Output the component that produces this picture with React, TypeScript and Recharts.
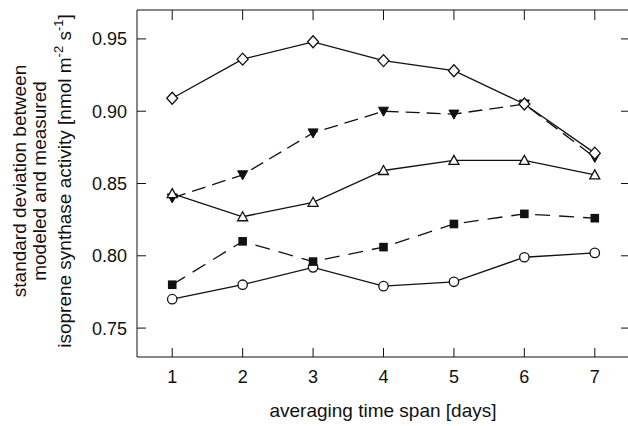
import React from "react";
import { LineChart, Line, XAxis, YAxis } from "recharts";

const days = [1, 2, 3, 4, 5, 6, 7];
const diamonds = [0.909, 0.936, 0.948, 0.935, 0.928, 0.905, 0.871];
const downTriangles = [0.84, 0.856, 0.885, 0.9, 0.898, 0.905, 0.868];
const upTriangles = [0.843, 0.827, 0.837, 0.859, 0.866, 0.866, 0.856];
const squares = [0.78, 0.81, 0.796, 0.806, 0.822, 0.829, 0.826];
const circles = [0.77, 0.78, 0.792, 0.779, 0.782, 0.799, 0.802];

const xTicks = [1, 2, 3, 4, 5, 6, 7];
const yTicks = [0.75, 0.8, 0.85, 0.9, 0.95];

const data = days.map((d, i) => ({
  day: d,
  diamond: diamonds[i],
  down: downTriangles[i],
  up: upTriangles[i],
  square: squares[i],
  circle: circles[i],
}));

const INK = "#111";
const FONT = "'Liberation Sans', Arial, sans-serif";
const SW = 1.3;

const Diamond = ({ cx, cy }: any) => (
  <path
    d={`M${cx},${cy - 6}L${cx + 5.5},${cy}L${cx},${cy + 6}L${cx - 5.5},${cy}Z`}
    fill="#fff"
    stroke={INK}
    strokeWidth={SW}
  />
);
const DownTri = ({ cx, cy }: any) => (
  <path d={`M${cx - 5},${cy - 4}L${cx + 5},${cy - 4}L${cx},${cy + 5}Z`} fill={INK} stroke={INK} strokeWidth={1} />
);
const UpTri = ({ cx, cy }: any) => (
  <path d={`M${cx - 5},${cy + 4}L${cx + 5},${cy + 4}L${cx},${cy - 5}Z`} fill="#fff" stroke={INK} strokeWidth={SW} />
);
const Square = ({ cx, cy }: any) => (
  <rect x={cx - 4.3} y={cy - 4.3} width={8.6} height={8.6} fill={INK} />
);
const Circle = ({ cx, cy }: any) => <circle cx={cx} cy={cy} r={4.7} fill="#fff" stroke={INK} strokeWidth={SW} />;

const BottomTick = ({ x, y, payload }: any) => (
  <g>
    <line x1={x} y1={y} x2={x} y2={y - 9} stroke={INK} strokeWidth={1} />
    <text x={x} y={y + 26} textAnchor="middle" fill={INK} fontSize={18} fontFamily={FONT}>
      {payload.value}
    </text>
  </g>
);
const TopTick = ({ x, y }: any) => <line x1={x} y1={y} x2={x} y2={y + 10} stroke={INK} strokeWidth={1} />;
const LeftTick = ({ x, y, payload }: any) => (
  <g>
    <line x1={x} y1={y} x2={x + 9} y2={y} stroke={INK} strokeWidth={1} />
    <text x={x - 10} y={y + 6.5} textAnchor="end" fill={INK} fontSize={18} fontFamily={FONT}>
      {Number(payload.value).toFixed(2)}
    </text>
  </g>
);
const RightTick = ({ x, y }: any) => <line x1={x} y1={y} x2={x - 9} y2={y} stroke={INK} strokeWidth={1} />;

export default function App() {
  const cy = 181;
  return (
    <div style={{ position: "absolute", left: 0, top: 0, width: 628, height: 426, overflow: "hidden", background: "#fff" }}>
      <LineChart width={634} height={426} data={data} margin={{ top: 9, right: 3, bottom: 68, left: 136 }}>
        <XAxis
          dataKey="day"
          type="number"
          domain={[0.5, 7.5]}
          ticks={xTicks}
          allowDataOverflow
          height={1}
          tickSize={0}
          tickMargin={0}
          tickLine={false}
          axisLine={{ stroke: INK, strokeWidth: 1 }}
          tick={<BottomTick />}
          interval={0}
        />
        <XAxis
          xAxisId="top"
          orientation="top"
          dataKey="day"
          type="number"
          domain={[0.5, 7.5]}
          ticks={xTicks}
          allowDataOverflow
          height={1}
          tickSize={0}
          tickMargin={0}
          tickLine={false}
          axisLine={{ stroke: INK, strokeWidth: 1 }}
          tick={<TopTick />}
          interval={0}
        />
        <YAxis
          type="number"
          domain={[0.73, 0.97]}
          ticks={yTicks}
          allowDataOverflow
          width={1}
          tickSize={0}
          tickMargin={0}
          tickLine={false}
          axisLine={{ stroke: INK, strokeWidth: 1 }}
          tick={<LeftTick />}
          interval={0}
        />
        <YAxis
          yAxisId="right"
          orientation="right"
          type="number"
          domain={[0.73, 0.97]}
          ticks={yTicks}
          allowDataOverflow
          width={1}
          tickSize={0}
          tickMargin={0}
          tickLine={false}
          axisLine={{ stroke: INK, strokeWidth: 1 }}
          tick={<RightTick />}
          interval={0}
        />
        <Line dataKey="circle" stroke={INK} strokeWidth={SW} isAnimationActive={false} activeDot={false}
          dot={(p: any) => <Circle key={`c${p.index}`} {...p} />} />
        <Line dataKey="square" stroke={INK} strokeWidth={SW} strokeDasharray="15 9" isAnimationActive={false} activeDot={false}
          dot={(p: any) => <Square key={`s${p.index}`} {...p} />} />
        <Line dataKey="down" stroke={INK} strokeWidth={SW} strokeDasharray="14 7" isAnimationActive={false} activeDot={false}
          dot={(p: any) => <DownTri key={`d${p.index}`} {...p} />} />
        <Line dataKey="up" stroke={INK} strokeWidth={SW} isAnimationActive={false} activeDot={false}
          dot={(p: any) => <UpTri key={`u${p.index}`} {...p} />} />
        <Line dataKey="diamond" stroke={INK} strokeWidth={SW} isAnimationActive={false} activeDot={false}
          dot={(p: any) => <Diamond key={`m${p.index}`} {...p} />} />
        <text x={383} y={417} textAnchor="middle" fill={INK} fontSize={19} fontFamily={FONT}>
          averaging time span [days]
        </text>
        <g fill={INK} fontSize={19} fontFamily={FONT} textAnchor="middle">
          <text x={26} y={cy} transform={`rotate(-90, 26, ${cy})`}>standard deviation between</text>
          <text x={46} y={cy} transform={`rotate(-90, 46, ${cy})`}>modeled and measured</text>
          <text x={71} y={cy} transform={`rotate(-90, 71, ${cy})`}>
            isoprene synthase activity [nmol m
            <tspan fontSize={13} dy={-8}>-2</tspan>
            <tspan dy={8}> s</tspan>
            <tspan fontSize={13} dy={-8}>-1</tspan>
            <tspan dy={8}>]</tspan>
          </text>
        </g>
      </LineChart>
    </div>
  );
}
